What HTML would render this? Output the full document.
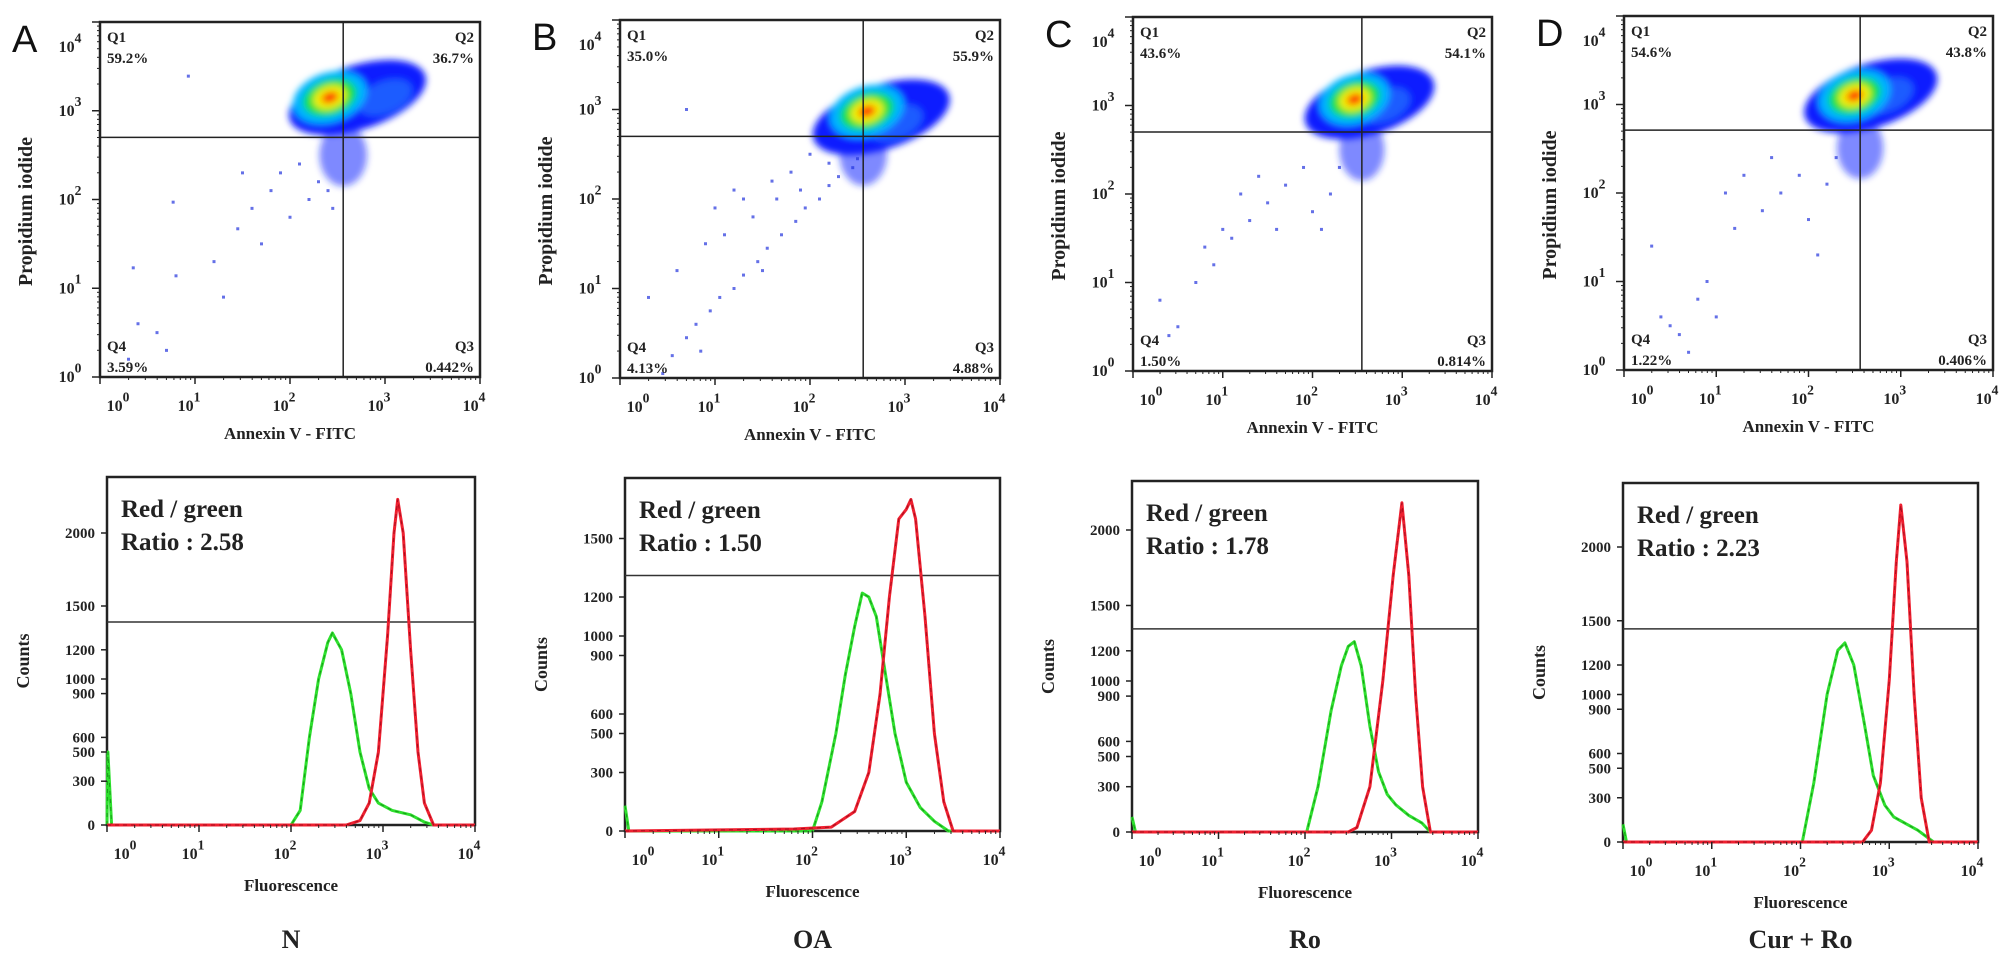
<!DOCTYPE html>
<html><head><meta charset="utf-8">
<style>
html,body{margin:0;padding:0;background:#fff;}
svg{display:block;}
text{font-family:"Liberation Serif",serif;font-weight:bold;fill:#222;}
.let{font-family:"Liberation Sans",sans-serif;font-weight:normal;font-size:38px;fill:#111;}
</style></head>
<body>
<svg id="fig" width="2008" height="963" viewBox="0 0 2008 963" xmlns="http://www.w3.org/2000/svg">
<defs><filter id="blur" x="-50%" y="-50%" width="200%" height="200%"><feGaussianBlur stdDeviation="3.5"/></filter></defs>
</svg>
<script>
// ---------- data ----------
const panelLetters=['A','B','C','D'];
const groupNames=['N','OA','Ro','Cur + Ro'];
const q1Pct=['59.2%','35.0%','43.6%','54.6%'];
const q2Pct=['36.7%','55.9%','54.1%','43.8%'];
const q3Pct=['0.442%','4.88%','0.814%','0.406%'];
const q4Pct=['3.59%','4.13%','1.50%','1.22%'];
const ratios=['2.58','1.50','1.78','2.23'];
const gateX=[2.56,2.56,2.55,2.56];
const gateY=[2.70,2.70,2.70,2.71];
const mainX=[2.42,2.6,2.47,2.5];
const mainY=[3.15,2.98,3.07,3.10];
const lobeX=[3.0,2.9,2.8,2.85];
const lobeY=[3.15,2.85,3.0,3.1];
const outliersA=[[0.93,3.39],[0.77,1.97],[1.45,1.67],[0.35,1.23],[0.8,1.14],[1.2,1.3],[1.6,1.9],[1.8,2.1],[1.9,2.3],[2.0,1.8],[1.3,0.9],[0.6,0.5],[0.4,0.6],[0.3,0.2],[0.7,0.3],[1.7,1.5],[2.2,2.0],[2.3,2.2],[2.1,2.4],[1.5,2.3],[2.4,2.1],[2.45,1.9]];
const outliersB=[[0.45,0.05],[0.55,0.25],[0.7,0.45],[0.8,0.6],[0.95,0.75],[1.05,0.9],[1.2,1.0],[1.3,1.15],[1.45,1.3],[1.55,1.45],[1.7,1.6],[1.85,1.75],[1.95,1.9],[2.1,2.0],[2.2,2.15],[2.3,2.25],[2.45,2.35],[2.5,2.45],[0.9,1.5],[1.0,1.9],[1.2,2.1],[1.4,1.8],[1.6,2.2],[1.8,2.3],[2.0,2.5],[0.6,1.2],[0.3,0.9],[1.1,1.6],[1.5,1.2],[2.2,2.4],[1.3,2.0],[0.7,3.0],[1.9,2.1],[0.85,0.3],[1.65,2.0]];
const outliersC=[[0.5,0.5],[0.4,0.4],[0.7,1.0],[0.9,1.2],[1.1,1.5],[1.3,1.7],[1.5,1.9],[1.7,2.1],[1.2,2.0],[1.0,1.6],[0.8,1.4],[1.6,1.6],[2.0,1.8],[2.2,2.0],[1.9,2.3],[2.3,2.3],[0.3,0.8],[1.4,2.2],[2.1,1.6]];
const outliersD=[[0.4,0.6],[0.5,0.5],[0.6,0.4],[0.8,0.8],[0.9,1.0],[1.0,0.6],[1.2,1.6],[1.1,2.0],[1.3,2.2],[1.5,1.8],[1.7,2.0],[1.9,2.2],[2.0,1.7],[2.2,2.1],[2.3,2.4],[1.6,2.4],[0.3,1.4],[0.7,0.2],[2.1,1.3]];
const outliers=[outliersA,outliersB,outliersC,outliersD];
const histTicks=[[0,300,500,600,900,1000,1200,1500,2000],[0,300,500,600,900,1000,1200,1500],[0,300,500,600,900,1000,1200,1500,2000],[0,300,500,600,900,1000,1200,1500,2000]];
const thresholds=[1390,1310,1345,1445];
const greenA=[[0,0],[0.01,500],[0.05,0],[2.0,0],[2.1,100],[2.2,600],[2.3,1000],[2.4,1250],[2.45,1315],[2.55,1200],[2.65,900],[2.75,500],[2.85,250],[2.95,150],[3.1,100],[3.3,70],[3.45,20],[3.55,0],[4,0]];
const redA=[[0,0],[2.6,0],[2.75,30],[2.85,150],[2.95,500],[3.05,1300],[3.12,2000],[3.16,2230],[3.22,2000],[3.3,1200],[3.38,500],[3.45,150],[3.55,0],[4,0]];
const greenB=[[0,130],[0.04,0],[2.0,0],[2.1,150],[2.25,500],[2.35,800],[2.45,1050],[2.53,1220],[2.6,1200],[2.68,1100],[2.78,800],[2.88,500],[3.0,250],[3.15,120],[3.3,50],[3.45,0],[4,0]];
const redB=[[0,0],[1.8,10],[2.2,20],[2.45,100],[2.6,300],[2.72,700],[2.82,1200],[2.92,1600],[3.0,1650],[3.05,1700],[3.1,1600],[3.2,1100],[3.3,500],[3.4,150],[3.5,0],[4,0]];
const greenC=[[0,100],[0.04,0],[2.02,0],[2.15,300],[2.3,800],[2.42,1100],[2.5,1230],[2.57,1260],[2.65,1100],[2.75,700],[2.85,400],[2.95,250],[3.05,180],[3.2,110],[3.35,60],[3.45,0],[4,0]];
const redC=[[0,0],[2.5,0],[2.6,30],[2.75,300],[2.9,1000],[3.02,1700],[3.12,2180],[3.2,1700],[3.28,900],[3.36,300],[3.45,0],[4,0]];
const greenD=[[0,120],[0.04,0],[2.02,0],[2.15,400],[2.3,1000],[2.42,1300],[2.5,1350],[2.6,1200],[2.72,800],[2.82,450],[2.95,250],[3.05,170],[3.2,120],[3.32,80],[3.5,0],[4,0]];
const redD=[[0,0],[2.7,0],[2.8,80],[2.9,400],[3.0,1100],[3.08,1900],[3.13,2285],[3.2,1900],[3.28,1000],[3.36,300],[3.45,0],[4,0]];
const greens=[greenA,greenB,greenC,greenD];
const reds=[redA,redB,redC,redD];

// ---------- layout ----------
const scBox=[[100,22,480,377],[620,20,1000,378],[1133,17,1492,371],[1624,16,1993,370]];
const hBox=[[107,477,475,825],[625,478,1000,831],[1132,481,1478,832],[1623,483,1978,842]];
const hK=[0.146,0.195,0.151,0.1475];
const NS='http://www.w3.org/2000/svg';
const svg=document.getElementById('fig');
function mk(tag,attrs,parent,txt){const e=document.createElementNS(NS,tag);for(const k in attrs)e.setAttribute(k,attrs[k]);if(txt!==undefined)e.textContent=txt;(parent||svg).appendChild(e);return e;}

function powLabel(g,x,y,exp,size){
  const t=mk('text',{x:x,y:y,'font-size':size,'text-anchor':'middle'},g);
  
  
  mk('tspan',{},t,'10');
  mk('tspan',{dy:-size*0.6,'font-size':size*0.85},t,String(exp));
}
function logXAxis(g,x0,x1,yb,size){
  const sx=v=>x0+v/4*(x1-x0);
  for(let d=0;d<4;d++){for(let m=2;m<10;m++){const xx=sx(d+Math.log10(m));mk('line',{x1:xx,x2:xx,y1:yb,y2:yb+3,stroke:'#222','stroke-width':1},g);}}
  for(let d=0;d<=4;d++){const xx=sx(d);mk('line',{x1:xx,x2:xx,y1:yb,y2:yb+7,stroke:'#222','stroke-width':1.5},g);
    powLabel(g,d===0?xx+18:xx-6,yb+34,d,size);}
}

for(let p=0;p<4;p++){
  // ---------- scatter ----------
  const [x0,y0,x1,y1]=scBox[p];
  const sx=v=>x0+v/4*(x1-x0), sy=v=>y1-v/4*(y1-y0);
  const dx=(x1-x0)/4, dy=(y1-y0)/4;
  const g=mk('g',{});
  
  
  const L=mk('text',{x:x0-88,y:y0+30,class:'let'},g,panelLetters[p]);
  
  
  const cl=mk('g',{filter:'url(#blur)'},g);
  
  
  mk('ellipse',{cx:sx(gateX[p]),cy:sy(gateY[p]-0.2),rx:0.25*dx,ry:0.35*dy,fill:'#1a28ff',opacity:0.55},cl);
  mk('ellipse',{cx:sx((mainX[p]+lobeX[p])/2),cy:sy((mainY[p]+lobeY[p])/2),rx:0.75*dx,ry:0.36*dy,fill:'#0a1aff',transform:`rotate(-18 ${sx((mainX[p]+lobeX[p])/2)} ${sy((mainY[p]+lobeY[p])/2)})`},cl);
  mk('ellipse',{cx:sx(lobeX[p]),cy:sy(lobeY[p]),rx:0.3*dx,ry:0.18*dy,fill:'#1f6cff',opacity:0.8,transform:`rotate(-22 ${sx(lobeX[p])} ${sy(lobeY[p])})`},cl);
  const lay=[[0.4,0.28,'#00b4ff'],[0.29,0.2,'#10e040'],[0.18,0.13,'#f0f000'],[0.09,0.06,'#ff2a00']];
  for(const [rx,ry,c] of lay){mk('ellipse',{cx:sx(mainX[p]),cy:sy(mainY[p]),rx:rx*dx,ry:ry*dy,fill:c,transform:`rotate(-18 ${sx(mainX[p])} ${sy(mainY[p])})`},cl);}
  for(const [lx,ly] of outliers[p]){
    const r=mk('rect',{x:sx(lx)-1.5,y:sy(ly)-1.5,width:3,height:3,fill:'#2233dd',opacity:0.7},g);
    
    
  }
  mk('rect',{x:x0,y:y0,width:x1-x0,height:y1-y0,fill:'none',stroke:'#222','stroke-width':2.5},g);
  mk('line',{x1:sx(gateX[p]),x2:sx(gateX[p]),y1:y0,y2:y1,stroke:'#222','stroke-width':1.5},g);
  mk('line',{x1:x0,x2:x1,y1:sy(gateY[p]),y2:sy(gateY[p]),stroke:'#222','stroke-width':1.5},g);
  const qs=[['Q1',q1Pct[p],x0+7,y0+20,'start'],['Q2',q2Pct[p],x1-6,y0+20,'end'],['Q4',q4Pct[p],x0+7,y1-26,'start'],['Q3',q3Pct[p],x1-6,y1-26,'end']];
  for(const [q,pc,qx,qy,an] of qs){
    const t1=mk('text',{x:qx,y:qy,'font-size':15,'text-anchor':an},g,q);
    
    
    const t2=mk('text',{x:qx,y:qy+21,'font-size':15,'text-anchor':an},g,pc);
    
    
  }
  for(let d=0;d<4;d++){for(let m=2;m<10;m++){const yy=sy(d+Math.log10(m));mk('line',{x1:x0-3,x2:x0,y1:yy,y2:yy,stroke:'#222'},g);}}
  for(let d=0;d<=4;d++){const yy=sy(d);mk('line',{x1:x0-8,x2:x0,y1:yy,y2:yy,stroke:'#222','stroke-width':1.5},g);
    powLabel(g,x0-30,d===4?yy+30:yy+5,d,16);}
  logXAxis(g,x0,x1,y1,16);
  const xt=mk('text',{x:(x0+x1)/2,y:y1+62,'font-size':17,'text-anchor':'middle'},g,'Annexin V - FITC');
  
  
  const yc=(y0+y1)/2+12;
  const yt=mk('text',{x:x0-68,y:yc,'font-size':20,'text-anchor':'middle',transform:`rotate(-90 ${x0-68} ${yc})`},g,'Propidium iodide');
  
  

  // ---------- histogram ----------
  const [hx0,hy0,hx1,hz]=hBox[p];
  const hxs=v=>hx0+v/4*(hx1-hx0), hys=c=>hz-c*hK[p];
  const h=mk('g',{});
  
  
  mk('rect',{x:hx0,y:hy0,width:hx1-hx0,height:hz-hy0,fill:'none',stroke:'#222','stroke-width':2.5},h);
  const th=mk('line',{x1:hx0,x2:hx1,y1:hys(thresholds[p]),y2:hys(thresholds[p]),stroke:'#333','stroke-width':1.5},h);
  
  
  for(const [arr,col,nm] of [[greens[p],'#2ee02e','green-curve'],[reds[p],'#ee2030','red-curve']]){
    const d=arr.map((pt,i)=>(i?'L':'M')+hxs(pt[0]).toFixed(1)+','+hys(pt[1]).toFixed(1)).join(' ');
    const path=mk('path',{d:d,fill:'none',stroke:col,'stroke-width':3,'stroke-linejoin':'round'},h);
    
    
    mk('path',{d:d,fill:'none',stroke:nm==='red-curve'?'#7a0010':'#0a6a0a','stroke-width':1,'stroke-dasharray':'4 4',opacity:0.6},h);
  }
  for(const v of histTicks[p]){const yy=hys(v);
    mk('line',{x1:hx0-6,x2:hx0,y1:yy,y2:yy,stroke:'#222','stroke-width':1.5},h);
    const t=mk('text',{x:hx0-12,y:yy+5,'font-size':15,'text-anchor':'end'},h,String(v));
    
    }
  logXAxis(h,hx0,hx1,hz,16);
  const r1=mk('text',{x:hx0+14,y:hy0+40,'font-size':25},h,'Red / green');
  
  
  const r2=mk('text',{x:hx0+14,y:hy0+73,'font-size':25},h,'Ratio : '+ratios[p]);
  
  
  const fx=mk('text',{x:(hx0+hx1)/2,y:hz+66,'font-size':17,'text-anchor':'middle'},h,'Fluorescence');
  
  
  const cy=(hy0+hz)/2+10;
  const ct=mk('text',{x:hx0-78,y:cy,'font-size':18,'text-anchor':'middle',transform:`rotate(-90 ${hx0-78} ${cy})`},h,'Counts');
  
  
  const gn=mk('text',{x:(hx0+hx1)/2,y:948,'font-size':26,'text-anchor':'middle'},h,groupNames[p]);
  
  
}
</script>
</body></html>
